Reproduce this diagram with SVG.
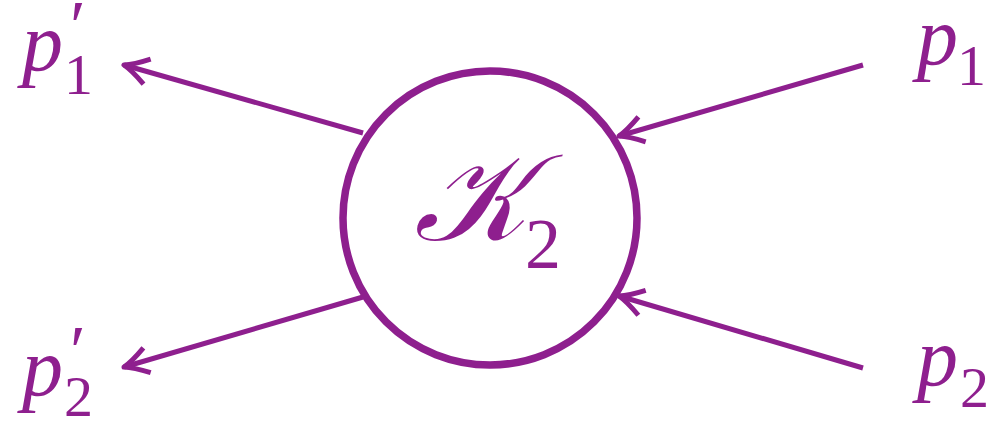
<svg xmlns="http://www.w3.org/2000/svg" width="993" height="421" viewBox="0 0 993 421">
<style>
.c{fill:none;stroke:#8E1F8E;stroke-width:7.5}
.e{fill:none;stroke:#8E1F8E;stroke-width:5;stroke-linecap:butt}
.v{font-family:"Liberation Serif",serif;font-style:italic;fill:#8E1F8E}
.n{font-family:"Liberation Serif",serif;fill:#8E1F8E}
</style>
<defs>
<marker id="ah" markerUnits="userSpaceOnUse" viewBox="-28 -16 32 32" markerWidth="32" markerHeight="32" refX="0" refY="0" orient="auto" overflow="visible">
<path d="M -24,-13 Q -9,-3 0,0 Q -9,3 -24,13" fill="none" stroke="#8E1F8E" stroke-width="5" stroke-linecap="butt" stroke-linejoin="round"/>
</marker>
</defs>
<g id="K2">
<circle class="c" cx="490" cy="218" r="147"/>
<text class="v" x="414" y="240" font-size="122">𝒦</text>
<text class="n" x="525" y="268" font-size="72">2</text>
</g>
<g id="p1prime">
<text class="v" x="22" y="70" font-size="82">p</text>
<text class="n" x="70" y="50" font-size="72">′</text>
<text class="n" x="64" y="94" font-size="58">1</text>
</g>
<g id="p2prime">
<text class="v" x="22" y="395" font-size="82">p</text>
<text class="n" x="70" y="375" font-size="72">′</text>
<text class="n" x="64" y="416" font-size="58">2</text>
</g>
<g id="p1">
<text class="v" x="917" y="64" font-size="82">p</text>
<text class="n" x="957" y="85" font-size="58">1</text>
</g>
<g id="p2">
<text class="v" x="917" y="385" font-size="82">p</text>
<text class="n" x="960" y="407" font-size="58">2</text>
</g>
<g id="connectors">
<line class="e" x1="363" y1="133" x2="124" y2="65" marker-end="url(#ah)"/>
<line class="e" x1="363" y1="297" x2="124" y2="367" marker-end="url(#ah)"/>
<line class="e" x1="863" y1="65" x2="619" y2="136" marker-end="url(#ah)"/>
<line class="e" x1="863" y1="368" x2="619" y2="296" marker-end="url(#ah)"/>
</g>
</svg>
